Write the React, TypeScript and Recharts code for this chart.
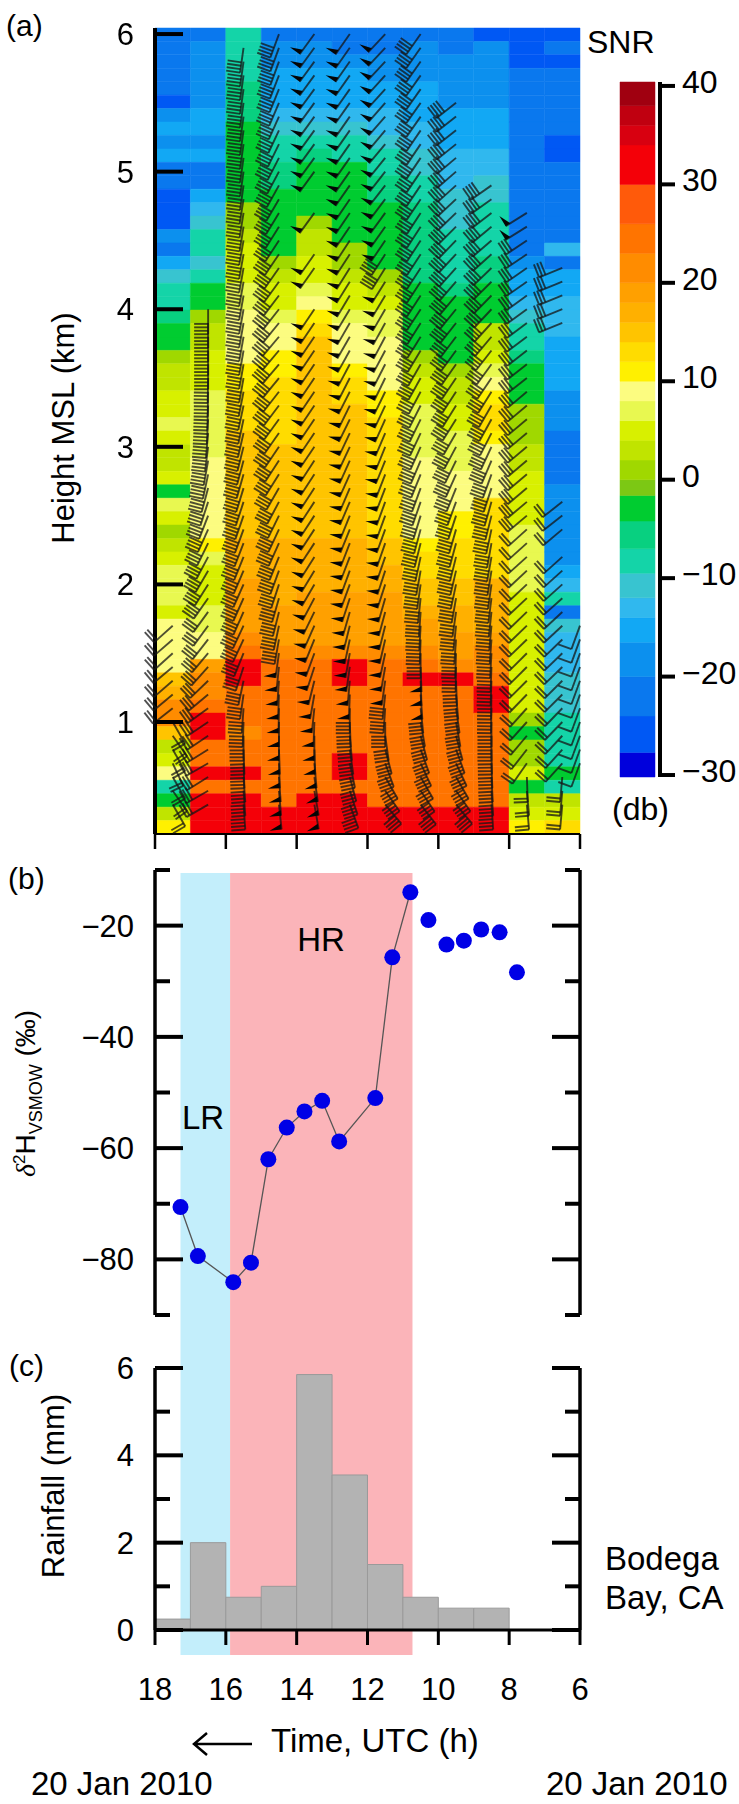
import { ComposedChart, Bar, Line, ScatterChart, Scatter, XAxis, YAxis, ReferenceArea } from "recharts";

const FONT = "'Liberation Sans', Arial, sans-serif";
const PAGE_W = 739;
const PAGE_H = 1804;
// the axes take 1px of the chart box, so the margins stop 1px short of the plot rectangle
const PLOT_LEFT = 154;
const PLOT_RIGHT = PAGE_W - 580;

// time axis, hours UTC (runs backwards, 18 on the left)
const TIME_TICKS = [18, 16, 14, 12, 10, 8, 6];
const COLUMN_START = [18, 17, 16, 15, 14, 13, 12, 11, 10, 9, 8, 7];
const BARB_TIME = [17.5, 16.5, 15.5, 14.5, 13.5, 12.5, 11.5, 10.5, 9.5, 8.5, 7.5, 6.5, 6];

// colour scale of the SNR panel
const SNR_EDGES = [-30.2, -27.7, -24, -20, -16.5, -14, -12, -9.5, -7, -4.2, -1.6, 0, 2, 4, 6, 8, 10, 12, 14, 16, 18, 20, 23, 26, 30, 34, 36, 38, 40.4];
const SNR_COLORS = ["#0000dc", "#0058f4", "#0a78ee", "#0c90ee", "#12a8f4", "#30b8ee", "#38c4d0", "#14d4a8", "#08d080", "#00cc30", "#7cc814", "#a0d800", "#c0e400", "#d8f000", "#e8f850", "#fcfc80", "#fff000", "#ffdc00", "#ffc400", "#ffb000", "#ffa000", "#ff8c00", "#ff7400", "#ff5a0a", "#f40008", "#d80010", "#c00010", "#a00010"];
const SNR_TICKS = [40, 30, 20, 10, 0, -10, -20, -30];

// SNR (dB), one list per hour column, top gate first
const SNR_TOP_KM = 6.044;
const SNR_BOTTOM_KM = 0.186;
const SNR_COLUMNS = [
  [-22,-22,-22,-22,-22,-25,-18,-15,-18,-15,-22,-22,-25,-25,-25,-18,-22,-15,-11,-8,-8,-6,-3,-3,1,3,3,5,5,6,5,3,3,5,-3,7,5,1,3,5,7,7,7,5,9,9,9,9,14,17,22,22,15,3,5,9,-8,-3,3,11],
  [-22,-18,-18,-18,-18,-18,-15,-15,-18,-15,-22,-22,-15,-13,-11,-8,-8,-11,-8,-3,-3,1,3,3,5,5,5,7,7,7,7,7,8,9,9,9,9,9,11,7,5,5,5,7,7,9,9,19,22,22,25,32,32,25,25,32,25,32,32,32],
  [-8,-8,-8,-8,-6,-6,-6,-3,-3,-3,-3,-3,-3,1,1,3,5,5,5,7,7,9,9,9,9,10,11,13,13,13,15,15,15,15,15,15,15,15,17,17,17,19,19,19,19,22,25,32,32,25,25,25,22,25,25,32,25,32,32,32],
  [-22,-18,-18,-15,-15,-15,-13,-11,-8,-8,-6,-6,-3,-3,-3,-3,-3,1,3,5,5,7,9,9,11,11,13,13,13,13,13,15,15,15,15,15,15,15,17,17,17,17,17,19,19,19,22,25,25,25,25,25,25,25,25,25,25,25,32,32],
  [-22,-18,-18,-15,-15,-15,-13,-11,-8,-6,-3,-3,-3,-3,1,3,3,5,5,7,9,11,13,14,14,15,15,15,15,15,15,15,15,15,15,15,15,15,17,17,17,17,19,19,19,19,22,25,25,25,25,25,25,25,25,25,25,32,32,32],
  [-22,-22,-18,-15,-15,-15,-13,-11,-8,-8,-3,-3,-3,-3,-3,-3,1,1,3,5,5,7,9,9,9,11,13,13,14,15,15,15,15,15,15,15,15,15,17,17,17,17,19,19,19,19,22,32,32,25,25,25,25,25,32,32,25,32,32,32],
  [-22,-22,-18,-18,-15,-15,-13,-13,-11,-8,-8,-6,-6,-3,-3,-3,-3,-3,1,3,5,7,7,9,9,9,9,10,11,12,13,13,13,13,13,13,13,13,15,15,17,17,19,19,19,19,22,25,25,25,25,25,25,25,25,25,25,25,32,32],
  [-22,-18,-18,-18,-15,-15,-15,-13,-13,-11,-11,-8,-8,-6,-6,-6,-6,-6,-6,-3,-3,-3,-3,-3,1,3,5,5,7,7,7,7,9,9,9,9,9,9,11,13,13,15,15,17,19,19,22,25,32,25,25,25,25,25,25,25,25,25,32,32],
  [-22,-22,-18,-18,-18,-18,-15,-15,-15,-13,-13,-13,-11,-11,-11,-8,-8,-8,-8,-6,-3,-3,-3,-3,-3,1,3,3,5,5,6,7,7,9,9,9,11,11,13,13,13,15,15,17,17,19,19,22,32,25,25,25,25,25,25,25,25,25,32,32],
  [-25,-18,-18,-18,-18,-18,-15,-15,-15,-13,-13,-11,-11,-8,-8,-8,-8,-6,-6,-3,-3,-3,3,3,5,7,9,11,13,13,11,9,9,9,9,13,13,13,13,13,13,17,17,17,17,19,22,22,25,32,32,25,25,25,25,25,25,25,32,32],
  [-25,-25,-25,-22,-22,-22,-22,-22,-22,-22,-22,-22,-22,-22,-22,-22,-22,-18,-15,-15,-13,-11,-8,-8,-6,-3,-3,-3,1,1,1,3,3,5,5,5,5,7,7,7,7,7,5,5,5,5,5,5,5,5,5,1,-3,1,1,5,-3,3,5,11],
  [-25,-22,-25,-22,-22,-22,-22,-22,-25,-25,-22,-22,-22,-22,-22,-22,-13,-22,-15,-15,-13,-13,-13,-15,-15,-15,-15,-18,-18,-18,-22,-22,-22,-22,-18,-18,-18,-18,-18,-18,-15,-13,-8,-22,-11,-13,-13,-13,-11,-11,-11,-8,-8,-8,-8,-3,-8,3,5,13],
];

// wind barbs: direction (deg) per 100 m gate, lowest gate (0.4 km) first, null where no barb was drawn
const BARB_BASE_KM = 0.4;
const BARB_STEP_KM = 0.1;
const BARB_DIRS: (number | null)[][] = [
  [150,145,150,155,150,145,150,232,230,229,230,228,229,228],
  [240,240,238,240,238,236,236,234,230,226,222,220,218,216,216,215,212,210,208,206,204,201,198,195,192,190,187,185,183,182,181,181,180,180,180,180,180],
  [176,176,176,178,178,180,182,184,188,192,198,202,205,205,204,204,204,203,202,201,200,199,198,197,196,195,194,193,192,192,191,190,190,190,190,190,190,190,190,190,190,190,189,189,189,188,188,188,188,188,188,188,188,188,188,188],
  [174,175,176,178,178,180,180,181,182,184,186,188,190,192,194,196,198,200,202,204,205,206,208,210,212,213,214,215,216,217,218,219,220,220,220,219,218,217,216,215,214,213,212,211,210,209,208,207,206,205,204,203,202,201,200,200,200],
  [170,170,172,175,178,180,182,186,190,194,198,200,202,204,206,208,210,211,212,213,213,213,213,213,213,213,214,214,214,214,214,214,214,214,214,214,214,null,null,215,215,null,null,216,null,null,216,216,216,216,216,216,216,216,216,216,216],
  [160,162,165,168,172,175,178,180,182,185,188,190,192,194,196,198,200,200,201,201,202,202,203,203,204,204,205,205,206,206,207,207,208,209,210,210,211,211,212,212,213,213,214,214,214,215,215,215,215,215,215,215,215,215,215,215,215],
  [140,145,150,160,165,172,180,184,186,188,190,192,193,194,195,196,198,198,199,199,200,200,200,201,201,202,202,203,204,205,206,206,207,208,208,209,210,211,212,212,213,214,215,216,217,218,218,219,220,220,221,221,222,222,223,223,223],
  [142,146,150,155,160,165,170,174,176,178,178,180,182,183,184,186,188,190,192,194,195,197,199,200,202,203,204,205,206,207,208,209,210,211,212,212,213,213,213,213,213,213,213,213,214,214,214,214,214,214,215,215,215,215,215,215,215],
  [140,145,150,155,160,165,170,172,175,178,181,182,184,186,188,190,192,193,194,195,196,198,200,202,204,206,208,210,212,212,213,214,215,216,217,218,219,220,221,222,223,224,225,226,227,228,229,230,231,232,232,232],
  [176,176,177,178,179,180,180,181,181,182,182,183,184,185,186,187,188,189,190,190,192,194,196,198,200,203,205,207,209,210,212,214,216,218,220,222,223,224,225,226,228,229,230,232,234,235],
  [175,175,178,215,218,220,222,222,224,225,225,225,226,226,226,227,227,227,228,228,228,230,230,230,230,230,230,230,230,230,230,232,232,232,233,233,234,234,235,235,236,236,238,238],
  [185,185,185,222,222,223,224,224,225,225,226,226,226,227,227,228,228,228,228,null,230,232,232,null,null,null,null,null,null,null,null,null,null,null,null,248,248,248,248,248],
  [null,null,null,200,200,200,200,200,200,200,200,200,200,200],
];
// wind speed (m/s) per column as [first gate, speed] runs
const BARB_SPEEDS = [
  [[0, 10]],
  [[0, 15], [15, 20]],
  [[0, 20]],
  [[0, 25], [12, 20]],
  [[0, 25]],
  [[0, 20], [8, 25]],
  [[0, 20], [9, 25], [39, 20], [41, 25]],
  [[0, 20], [8, 25], [11, 20]],
  [[0, 20]],
  [[0, 20]],
  [[0, 10], [21, 15], [42, 25]],
  [[0, 10], [35, 15]],
  [[0, 5]],
];

// panel b, deuterium in rain
const DELTA_TIME = [17.28, 16.79, 15.79, 15.29, 14.8, 14.28, 13.78, 13.28, 12.8, 11.78, 11.3, 10.79, 10.28, 9.77, 9.28, 8.79, 8.27, 7.78];
const DELTA_VALUE = [-70.6, -79.4, -84.1, -80.6, -62, -56.3, -53.4, -51.5, -58.8, -51, -25.7, -14, -19, -23.4, -22.7, -20.7, -21.2, -28.4];
const DELTA_LINKED_POINTS = 12;
const DELTA_TICKS = [-10, -20, -30, -40, -50, -60, -70, -80, -90];

// panel c, rainfall per hour
const RAIN_TIME = [17.5, 16.5, 15.5, 14.5, 13.5, 12.5, 11.5, 10.5, 9.5, 8.5, 7.5, 6.5];
const RAIN_MM = [0.25, 2, 0.75, 1, 5.85, 3.55, 1.5, 0.75, 0.5, 0.5, 0, 0];
const RAIN_TICKS = [0, 1, 2, 3, 4, 5, 6];

// shaded periods
const LR_PERIOD = [17.28, 15.88];
const HR_PERIOD = [15.88, 10.73];

const deltaData = DELTA_TIME.map((time, i) => ({
  time,
  delta: DELTA_VALUE[i],
  linked: i < DELTA_LINKED_POINTS ? DELTA_VALUE[i] : null,
}));
const rainData = RAIN_TIME.map((time, i) => ({ time, rain: RAIN_MM[i] }));

const speedAt = (col: number, gate: number) => {
  let s = 0;
  for (const [from, v] of BARB_SPEEDS[col]) if (gate >= from) s = v;
  return s;
};

const barbColumns = BARB_DIRS.map((dirs, col) =>
  dirs
    .map((dir, gate) => ({ time: BARB_TIME[col], height: BARB_BASE_KM + gate * BARB_STEP_KM, dir, speed: speedAt(col, gate) }))
    .filter((b) => b.dir !== null)
);

const snrColor = (db: number) => {
  for (let i = 0; i < SNR_COLORS.length; i++) if (db < SNR_EDGES[i + 1]) return SNR_COLORS[i];
  return SNR_COLORS[SNR_COLORS.length - 1];
};

function WindBarb(props: any) {
  const { cx, cy, payload } = props;
  const STAFF = 25;
  const rad = (payload.dir * Math.PI) / 180;
  const dx = Math.sin(rad);
  const dy = -Math.cos(rad);
  const ex = cx + STAFF * dx;
  const ey = cy + STAFF * dy;
  const parts = [];
  if (payload.speed >= 25) {
    parts.push(
      <polygon
        key="w"
        points={`${ex},${ey} ${ex - dy * 12},${ey + dx * 12} ${ex - dx * 5.5},${ey - dy * 5.5}`}
        fill="#050505"
        stroke="none"
      />
    );
  } else {
    const n = Math.floor(payload.speed / 5);
    for (let i = 0; i < n; i++) {
      const bx = ex - dx * 3.44 * i;
      const by = ey - dy * 3.44 * i;
      parts.push(<line key={i} x1={bx} y1={by} x2={bx - dy * 14} y2={by + dx * 14} />);
    }
  }
  return (
    <g stroke="#161616" strokeWidth={1.9} strokeOpacity={0.75}>
      <line x1={cx} y1={cy} x2={ex} y2={ey} />
      {parts}
    </g>
  );
}

const sansText = { fontFamily: FONT, fill: "#000" };

function minusLabel(v: number) {
  return v < 0 ? `\u2212${Math.abs(v)}` : `${v}`;
}

// tick mark plus label drawn by hand, the marks in this figure point inwards
function LeftTick(props: any) {
  const { x, y, payload, isMajor, show, w } = props;
  const major = isMajor(payload.value);
  return (
    <g>
      <line x1={x} y1={y} x2={x + (major ? 28 : 15)} y2={y} stroke="#000" strokeWidth={w} />
      {show(payload.value) && (
        <text x={x - 21} y={y + 11} textAnchor="end" fontSize={31} style={sansText}>
          {minusLabel(payload.value)}
        </text>
      )}
    </g>
  );
}

function RightTick(props: any) {
  const { x, y, payload, isMajor, w } = props;
  return (
    <g>
      <line x1={x} y1={y} x2={x - (isMajor(payload.value) ? 28 : 15)} y2={y} stroke="#000" strokeWidth={w} />
    </g>
  );
}

function DownTick(props: any) {
  const { x, y, w, labelled } = props;
  return (
    <g>
      <line x1={x} y1={y} x2={x} y2={y + 15} stroke="#000" strokeWidth={w} />
      {labelled && (
        <text x={x} y={1700} textAnchor="middle" fontSize={31} style={sansText}>
          {props.payload.value}
        </text>
      )}
    </g>
  );
}

function ColorbarTick(props: any) {
  const { x, y, payload } = props;
  return (
    <g>
      <line x1={x} y1={y} x2={x + 15} y2={y} stroke="#000" strokeWidth={4} />
      <text x={x + 22} y={y + 7} fontSize={32} style={sansText}>
        {minusLabel(payload.value)}
      </text>
    </g>
  );
}

const layer: React.CSSProperties = { position: "absolute", left: 0, top: 0 };
const noMark = () => null;

function SnrPanel() {
  const rowKm = (SNR_TOP_KM - SNR_BOTTOM_KM) / SNR_COLUMNS[0].length;
  return (
    <div style={{ ...layer, filter: "blur(0.5px)" }}>
      <ScatterChart width={PAGE_W} height={PAGE_H} margin={{ left: PLOT_LEFT, right: PLOT_RIGHT, top: 28, bottom: PAGE_H - 835 }}>
        {SNR_COLUMNS.map((col, c) =>
          col.map((db, r) => (
            <ReferenceArea
              key={`${c}-${r}`}
              x1={COLUMN_START[c]}
              x2={COLUMN_START[c] - 1}
              y1={SNR_TOP_KM - r * rowKm}
              y2={SNR_TOP_KM - (r + 1) * rowKm}
              fill={snrColor(db)}
              fillOpacity={1}
              stroke={snrColor(db)}
              strokeWidth={0.5}
              ifOverflow="visible"
            />
          ))
        )}
        <XAxis
          type="number"
          dataKey="time"
          domain={[6, 18]}
          reversed
          ticks={TIME_TICKS}
          height={1}
          tickSize={0}
          tickMargin={0}
          axisLine={{ stroke: "#000", strokeWidth: 2 }}
          tickLine={false}
          tick={<DownTick w={2.5} />}
          interval={0}
        />
        <YAxis
          type="number"
          dataKey="height"
          domain={[SNR_BOTTOM_KM, SNR_TOP_KM]}
          ticks={[1, 2, 3, 4, 5, 6]}
          width={1}
          tickSize={0}
          tickMargin={0}
          axisLine={{ stroke: "#000", strokeWidth: 4 }}
          tickLine={false}
          tick={<LeftTick isMajor={() => true} show={() => true} w={4} />}
          interval={0}
        />
        {barbColumns.map((data, c) => (
          <Scatter key={c} data={data} shape={<WindBarb />} isAnimationActive={false} />
        ))}
      </ScatterChart>
    </div>
  );
}

function Colorbar() {
  return (
    <div style={layer}>
      <ScatterChart width={PAGE_W} height={PAGE_H} margin={{ left: 620, right: PAGE_W - 661, top: 82, bottom: PAGE_H - 777 }}>
        {SNR_COLORS.map((color, i) => (
          <ReferenceArea
            key={color}
            x1={0}
            x2={35}
            y1={SNR_EDGES[i]}
            y2={SNR_EDGES[i + 1]}
            fill={color}
            fillOpacity={1}
            stroke={color}
            strokeWidth={0.5}
            ifOverflow="visible"
          />
        ))}
        <XAxis type="number" dataKey="x" domain={[0, 40]} hide />
        <YAxis
          type="number"
          dataKey="y"
          orientation="right"
          domain={[-30.2, 40.4]}
          ticks={SNR_TICKS}
          width={1}
          tickSize={0}
          tickMargin={0}
          axisLine={{ stroke: "#000", strokeWidth: 4 }}
          tickLine={false}
          tick={<ColorbarTick />}
          interval={0}
        />
        <Scatter data={SNR_TICKS.map((y) => ({ x: 0, y }))} shape={noMark} isAnimationActive={false} />
      </ScatterChart>
    </div>
  );
}

// the two shaded periods run through panels b and c, so they get a chart of their own underneath
function PeriodShading() {
  return (
    <div style={layer}>
      <ScatterChart width={PAGE_W} height={PAGE_H} margin={{ left: PLOT_LEFT + 1, right: PLOT_RIGHT, top: 873, bottom: PAGE_H - 1655 }}>
        <XAxis type="number" dataKey="x" domain={[6, 18]} reversed hide />
        <YAxis type="number" dataKey="y" domain={[0, 1]} hide />
        <ReferenceArea x1={LR_PERIOD[0]} x2={LR_PERIOD[1]} y1={0} y2={1} fill="#c3eefb" fillOpacity={1} stroke="none" />
        <ReferenceArea x1={HR_PERIOD[0]} x2={HR_PERIOD[1]} y1={0} y2={1} fill="#fbb4b9" fillOpacity={1} stroke="none" />
        <Scatter data={[...LR_PERIOD, ...HR_PERIOD].map((x) => ({ x, y: 0 }))} shape={noMark} isAnimationActive={false} />
      </ScatterChart>
    </div>
  );
}

function DeltaPanel() {
  const major = (v: number) => Math.abs(v) % 20 === 0;
  return (
    <div style={layer}>
      <ComposedChart width={PAGE_W} height={PAGE_H} data={deltaData} margin={{ left: PLOT_LEFT, right: PLOT_RIGHT - 1, top: 870, bottom: PAGE_H - 1315 }}>
        <XAxis type="number" dataKey="time" domain={[6, 18]} reversed hide />
        <YAxis
          yAxisId="left"
          domain={[-90, -10]}
          ticks={DELTA_TICKS}
          width={1}
          tickSize={0}
          tickMargin={0}
          axisLine={{ stroke: "#000", strokeWidth: 3.5 }}
          tickLine={false}
          tick={<LeftTick isMajor={major} show={major} w={4} />}
          interval={0}
        />
        <YAxis
          yAxisId="right"
          orientation="right"
          domain={[-90, -10]}
          ticks={DELTA_TICKS}
          width={1}
          tickSize={0}
          tickMargin={0}
          axisLine={{ stroke: "#000", strokeWidth: 3.5 }}
          tickLine={false}
          tick={<RightTick isMajor={major} w={4} />}
          interval={0}
        />
        <Line yAxisId="left" dataKey="linked" stroke="#555" strokeWidth={1.3} dot={false} connectNulls={false} isAnimationActive={false} />
        <Line yAxisId="left" dataKey="delta" stroke="none" dot={{ r: 8, fill: "#0000e6", stroke: "none", fillOpacity: 1 }} isAnimationActive={false} />
        {/* keeps the right axis tied to the same values so that it draws its ticks */}
        <Line yAxisId="right" dataKey="delta" stroke="none" dot={false} isAnimationActive={false} />
      </ComposedChart>
    </div>
  );
}

function RainPanel() {
  const major = (v: number) => v % 2 === 0;
  return (
    <div style={layer}>
      <ComposedChart width={PAGE_W} height={PAGE_H} data={rainData} barSize={35.4} margin={{ left: PLOT_LEFT, right: PLOT_RIGHT - 1, top: 1368, bottom: PAGE_H - 1631 }}>
        <Bar yAxisId="left" dataKey="rain" fill="#b3b3b3" stroke="#9a9a9a" strokeWidth={1} isAnimationActive={false} />
        <Line yAxisId="right" dataKey="rain" stroke="none" dot={false} isAnimationActive={false} />
        <YAxis
          yAxisId="left"
          domain={[0, 6]}
          ticks={RAIN_TICKS}
          width={1}
          tickSize={0}
          tickMargin={0}
          axisLine={{ stroke: "#000", strokeWidth: 3.5 }}
          tickLine={false}
          tick={<LeftTick isMajor={major} show={major} w={4} />}
          interval={0}
        />
        <YAxis
          yAxisId="right"
          orientation="right"
          domain={[0, 6]}
          ticks={RAIN_TICKS}
          width={1}
          tickSize={0}
          tickMargin={0}
          axisLine={{ stroke: "#000", strokeWidth: 3.5 }}
          tickLine={false}
          tick={<RightTick isMajor={major} w={4} />}
          interval={0}
        />
        <XAxis
          type="number"
          dataKey="time"
          domain={[6, 18]}
          reversed
          ticks={TIME_TICKS}
          height={1}
          tickSize={0}
          tickMargin={0}
          axisLine={{ stroke: "#000", strokeWidth: 3 }}
          tickLine={false}
          tick={<DownTick w={3} labelled />}
          interval={0}
        />
      </ComposedChart>
    </div>
  );
}

function Annotations() {
  const t = { fontFamily: FONT, fill: "#000" };
  return (
    <svg width={PAGE_W} height={PAGE_H} style={{ ...layer, pointerEvents: "none" }}>
      <text x={6} y={36} fontSize={30} style={t}>(a)</text>
      <text x={8} y={889} fontSize={30} style={t}>(b)</text>
      <text x={9} y={1376} fontSize={30} style={t}>(c)</text>
      <text x={587} y={53} fontSize={32} style={t}>SNR</text>
      <text x={612} y={820} fontSize={32} style={t}>(db)</text>
      <text transform="translate(74,428) rotate(-90)" textAnchor="middle" fontSize={31} style={t}>Height MSL (km)</text>
      <text transform="translate(35,1177) rotate(-90)" fontSize={28} style={t}>
        <tspan fontStyle="italic" fontFamily="'Liberation Serif', serif">{"\u03b4"}</tspan>
        <tspan fontSize={17} dy={-10}>2</tspan>
        <tspan dy={10}>H</tspan>
        <tspan fontSize={18} dy={7}>VSMOW</tspan>
        <tspan dy={-7}> (‰)</tspan>
      </text>
      <text x={321} y={951} textAnchor="middle" fontSize={33} style={t}>HR</text>
      <text x={203} y={1129} textAnchor="middle" fontSize={33} style={t}>LR</text>
      <text transform="translate(64,1486) rotate(-90)" textAnchor="middle" fontSize={31} style={t}>Rainfall (mm)</text>
      <text x={605} y={1570} fontSize={33} style={t}>Bodega</text>
      <text x={605} y={1609} fontSize={33} style={t}>Bay, CA</text>
      <text x={271} y={1752} fontSize={33} style={t}>Time, UTC (h)</text>
      <path d="M252 1744 H195 M207 1733 L194 1744 L207 1755" fill="none" stroke="#000" strokeWidth={2.5} />
      <text x={31} y={1795} fontSize={33} style={t}>20 Jan 2010</text>
      <text x={546} y={1795} fontSize={33} style={t}>20 Jan 2010</text>
    </svg>
  );
}

export default function App() {
  return (
    <div style={{ position: "absolute", left: 0, top: 0, width: PAGE_W, height: PAGE_H, background: "#fff", overflow: "hidden" }}>
      <PeriodShading />
      <SnrPanel />
      <Colorbar />
      <RainPanel />
      <DeltaPanel />
      <Annotations />
    </div>
  );
}
